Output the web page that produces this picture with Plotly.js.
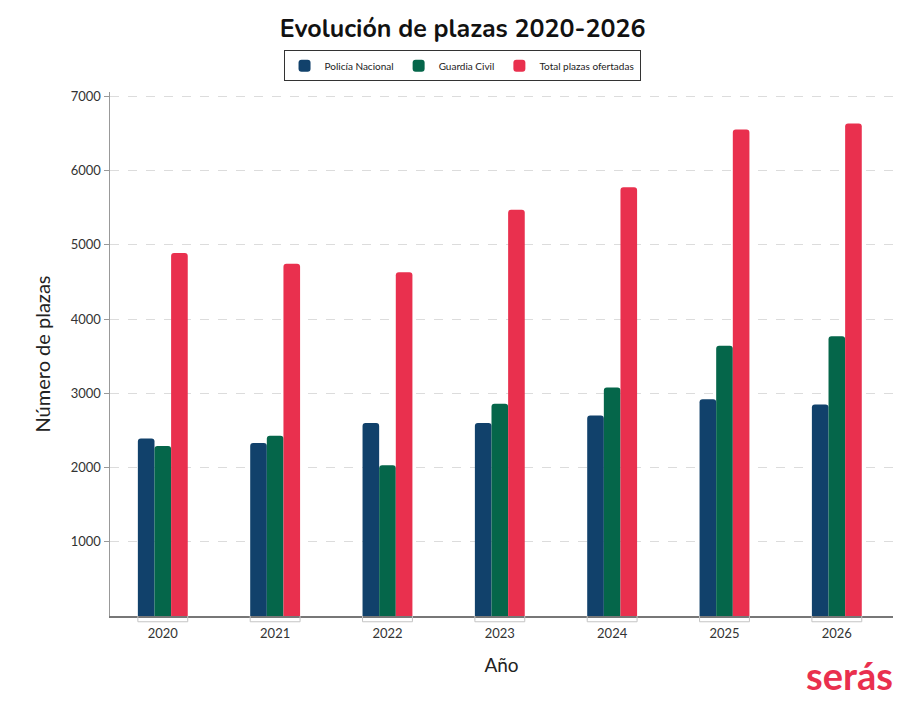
<!DOCTYPE html>
<html>
<head>
<meta charset="utf-8">
<script src="https://cdn.plot.ly/plotly-3.0.1.min.js"></script>
<style>html,body{margin:0;padding:0;background:#fff}#chart{width:907px;height:706px}</style>
</head>
<body>
<div id="chart"></div>
<script>
const years = ['2020','2021','2022','2023','2024','2025','2026'];
const policiaNacional = [2390, 2330, 2600, 2600, 2700, 2920, 2850];
const guardiaCivil = [2290, 2430, 2030, 2860, 3080, 3640, 3770];
const totalPlazas = [4890, 4745, 4630, 5475, 5775, 6555, 6635];
const yTicks = [1000, 2000, 3000, 4000, 5000, 6000, 7000];

const FONT = 'Lato, "Open Sans", sans-serif';
const traces = [
  {type:'bar', name:'Policía Nacional', x:years, y:policiaNacional, marker:{color:'#11416B', cornerradius:3}},
  {type:'bar', name:'Guardia Civil', x:years, y:guardiaCivil, marker:{color:'#05664A', cornerradius:3}},
  {type:'bar', name:'Total plazas ofertadas', x:years, y:totalPlazas, marker:{color:'#E9304E', cornerradius:3}}
];

const half = 0.222;
const shapes = [];
years.forEach((y, i) => {
  const x0 = i - half, x1 = i + half;
  shapes.push({type:'line', xref:'x', yref:'paper', x0:x0, x1:x1, y0:-0.011, y1:-0.011, line:{color:'#c4c4c4', width:1}});
  shapes.push({type:'line', xref:'x', yref:'paper', x0:x0, x1:x0, y0:-0.011, y1:0, line:{color:'#c4c4c4', width:1}});
  shapes.push({type:'line', xref:'x', yref:'paper', x0:x1, x1:x1, y0:-0.011, y1:0, line:{color:'#c4c4c4', width:1}});
});

const layout = {
  width:907, height:706,
  margin:{l:110, r:14, t:92, b:90},
  paper_bgcolor:'#fff', plot_bgcolor:'#fff',
  font:{family:FONT, color:'#333'},
  title:{text:'<b>Evolución de plazas 2020-2026</b>', x:0.51, xanchor:'center', y:0.96, yanchor:'middle', yref:'container',
         font:{family:'Nunito, Lato, sans-serif', size:25, color:'#111', weight:900}},
  barmode:'group', bargap:0.556, bargroupgap:0,
  showlegend:true,
  legend:{orientation:'h', x:0.4496, xanchor:'center', y:1.05, yanchor:'middle',
          bordercolor:'#333', borderwidth:1, bgcolor:'#fff',
          font:{size:10, color:'#222', family:FONT}, itemwidth:30, traceorder:'normal'},
  xaxis:{type:'category', range:[-0.47, 6.5], showline:true, linecolor:'#777', linewidth:1.5,
         ticks:'', showgrid:false, tickfont:{size:13, color:'#333'}, ticklabelstandoff:5,
         title:{text:'Año', font:{size:19, color:'#222'}, standoff:18}, zeroline:false},
  yaxis:{range:[0, 7060], tickvals:yTicks, tickformat:'d', showline:true, linecolor:'#999', linewidth:1.5,
         ticks:'outside', ticklen:5, tickcolor:'#999', tickfont:{size:13, color:'#333'},
         showgrid:true, gridcolor:'#dcdcdc', griddash:'dash', gridwidth:1, zeroline:false,
         title:{text:'Número de plazas', font:{size:20, color:'#222'}, standoff:14}},
  shapes:shapes,
  annotations:[{text:'<b>serás</b>', xref:'paper', yref:'paper', x:1.003, xanchor:'right', y:-0.1126, yanchor:'middle',
    showarrow:false, font:{family:'Lato, sans-serif', size:38, color:'#E9304E', weight:900}}]
};

Plotly.newPlot('chart', traces, layout, {displayModeBar:false, staticPlot:true});
</script>
</body>
</html>
